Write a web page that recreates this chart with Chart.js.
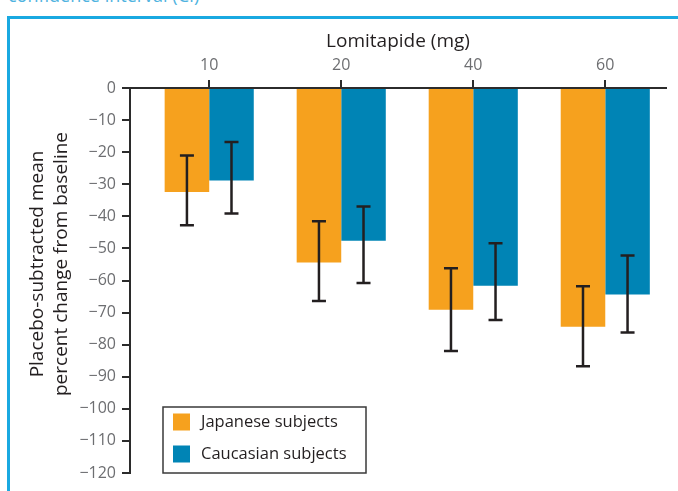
<!DOCTYPE html>
<html>
<head>
<meta charset="utf-8">
<script src="https://cdn.jsdelivr.net/npm/chart.js@4.4.1/dist/chart.umd.min.js"></script>
<style>
  body { margin: 0; background: #fff; }
  #wrap { position: relative; width: 678px; height: 491px; overflow: hidden; }
  #caption { position: absolute; left: 8px; top: -17px; font: 18px "Open Sans", sans-serif; color: #4fb3e0; white-space: nowrap; }
  #frame { position: absolute; left: 7px; top: 16px; width: 700px; height: 500px; border-left: 3px solid #19a9e1; border-top: 3px solid #19a9e1; }
  canvas { position: absolute; left: 0; top: 0; }
</style>
</head>
<body>
<div id="wrap">
  <div id="caption">confidence interval (CI)</div>
  <div id="frame"></div>
  <canvas id="chart" width="678" height="491"></canvas>
</div>
<script>
// Lomitapide dose groups (mg)
var doses = ['10', '20', '40', '60'];

// placebo-subtracted mean % change, with CI bounds
var japanese = [-32.4, -54.4, -69.1, -74.4];
var japaneseHi = [-21.0, -41.5, -56.2, -61.8];
var japaneseLo = [-42.8, -66.4, -82.0, -86.7];

var caucasian = [-28.8, -47.6, -61.6, -64.4];
var caucasianHi = [-16.8, -36.9, -48.4, -52.2];
var caucasianLo = [-39.1, -60.8, -72.3, -76.2];

var yTicks = [0, -10, -20, -30, -40, -50, -60, -70, -80, -90, -100, -110, -120];

var ink = '#2b2b2b';
var tickGray = '#6d6e71';

function toPoints(vals) {
    return vals.map(function (v, i) { return { x: i, y: v }; });
}

// draws the CI whiskers on top of the bars
var errorBars = {
    id: 'errorBars',
    afterDatasetsDraw: function (chart) {
        var ctx = chart.ctx;
        var y = chart.scales.y;
        ctx.save();
        ctx.strokeStyle = '#231f20';
        ctx.lineWidth = 2.5;
        chart.data.datasets.forEach(function (ds, di) {
            var meta = chart.getDatasetMeta(di);
            meta.data.forEach(function (bar, i) {
                var top = y.getPixelForValue(ds.ciHi[i]);
                var bot = y.getPixelForValue(ds.ciLo[i]);
                ctx.beginPath();
                ctx.moveTo(bar.x, top);
                ctx.lineTo(bar.x, bot);
                ctx.moveTo(bar.x - 7, top);
                ctx.lineTo(bar.x + 7, top);
                ctx.moveTo(bar.x - 7, bot);
                ctx.lineTo(bar.x + 7, bot);
                ctx.stroke();
            });
        });
        ctx.restore();
    }
};

// boxed legend inside the plot + two-line y title
var extras = {
    id: 'extras',
    afterDraw: function (chart) {
        var ctx = chart.ctx;
        var area = chart.chartArea;
        ctx.save();

        var lx = area.left + 33, ly = area.bottom - 66;
        ctx.strokeStyle = '#3a3a3a';
        ctx.lineWidth = 1.5;
        ctx.strokeRect(lx, ly, 203, 66);
        ctx.font = '16.5px "Open Sans", sans-serif';
        ctx.textBaseline = 'middle';
        chart.data.datasets.forEach(function (ds, i) {
            var rowY = ly + 15 + i * 32;
            ctx.fillStyle = ds.backgroundColor;
            ctx.fillRect(lx + 10, rowY - 8.5, 17, 17);
            ctx.fillStyle = '#231f20';
            ctx.fillText(ds.label, lx + 38, rowY);
        });

        ctx.translate(38, 264);
        ctx.rotate(-Math.PI / 2);
        ctx.textAlign = 'center';
        ctx.fillStyle = '#231f20';
        ctx.font = '19px "Open Sans", sans-serif';
        ctx.fillText('Placebo-subtracted mean', 0, 0);
        ctx.fillText('percent change from baseline', 0, 24);
        ctx.restore();
    }
};

new Chart(document.getElementById('chart'), {
    type: 'bar',
    data: {
        datasets: [{
            label: 'Japanese subjects',
            data: toPoints(japanese),
            ciHi: japaneseHi,
            ciLo: japaneseLo,
            backgroundColor: '#f6a11e'
        }, {
            label: 'Caucasian subjects',
            data: toPoints(caucasian),
            ciHi: caucasianHi,
            ciLo: caucasianLo,
            backgroundColor: '#0084b5'
        }]
    },
    options: {
        responsive: false,
        animation: false,
        categoryPercentage: 0.675,
        barPercentage: 1,
        layout: { padding: { left: 0, top: 0, right: 12, bottom: 18 } },
        plugins: {
            legend: { display: false },
            tooltip: { enabled: false }
        },
        scales: {
            x: {
                type: 'linear',
                position: 'top',
                offset: false,
                min: -0.6,
                max: 3.46,
                afterBuildTicks: function (scale) {
                    scale.ticks = doses.map(function (d, i) { return { value: i }; });
                },
                afterFit: function (scale) { scale.height = 88; },
                ticks: {
                    color: tickGray,
                    padding: 5,
                    font: { size: 16, family: '"Open Sans", sans-serif' },
                    callback: function (v) { return doses[v]; }
                },
                grid: {
                    offset: false,
                    drawOnChartArea: false,
                    color: ink,
                    lineWidth: 2,
                    tickLength: 8
                },
                border: { color: ink, width: 2 },
                title: {
                    display: true,
                    text: 'Lomitapide (mg)',
                    color: '#231f20',
                    padding: { top: 30 },
                    font: { size: 19, family: '"Open Sans", sans-serif' }
                }
            },
            y: {
                min: -120,
                max: 0,
                afterBuildTicks: function (scale) {
                    scale.ticks = yTicks.map(function (v) { return { value: v }; });
                },
                afterFit: function (scale) { scale.width = 130; },
                ticks: {
                    color: tickGray,
                    padding: 6,
                    font: { size: 16, family: '"Open Sans", sans-serif' },
                    callback: function (v) { return v === 0 ? '0' : '\u2212' + Math.abs(v); }
                },
                grid: {
                    drawOnChartArea: false,
                    color: ink,
                    lineWidth: 2,
                    tickLength: 8
                },
                border: { color: ink, width: 2 }
            }
        }
    },
    plugins: [errorBars, extras]
});
</script>
</body>
</html>
